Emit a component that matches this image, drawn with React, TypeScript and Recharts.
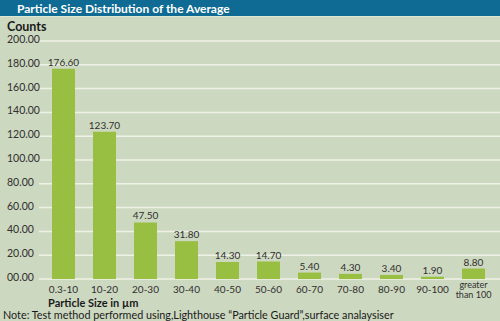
import React from "react";
import { Bar, BarChart, CartesianGrid, LabelList, XAxis, YAxis } from "recharts";

const sizeRanges = [
  "0.3-10",
  "10-20",
  "20-30",
  "30-40",
  "40-50",
  "50-60",
  "60-70",
  "70-80",
  "80-90",
  "90-100",
  "greater than 100",
];
const counts = [176.6, 123.7, 47.5, 31.8, 14.3, 14.7, 5.4, 4.3, 3.4, 1.9, 8.8];
const yTicks = [0, 20, 40, 60, 80, 100, 120, 140, 160, 180, 200];

const data = sizeRanges.map((range, i) => ({ range, count: counts[i] }));

const FONT = "Lato, 'Open Sans', sans-serif";
const BG = "#cdd8c0";
const BAR = "#99bf42";
const GRID = "#eef2e6";
const TEXT = "#2f2f2f";

function fmtY(v: number) {
  return v === 0 ? "00.00" : v.toFixed(2);
}

function YTick({ y, payload }: any) {
  return (
    <text x={7} y={y} dy={2} fontSize={10.5} fill={TEXT} fontFamily={FONT} textAnchor="start">
      {fmtY(payload.value)}
    </text>
  );
}

function XTick({ x, y, payload }: any) {
  const label: string = payload.value;
  if (label === "greater than 100") {
    // two-line label, drawn as separate texts
    return (
      <g>
        <text x={x} y={y + 1} fontSize={9} fill={TEXT} fontFamily={FONT} textAnchor="middle">
          greater
        </text>
        <text x={x} y={y + 11} fontSize={9} fill={TEXT} fontFamily={FONT} textAnchor="middle">
          than 100
        </text>
      </g>
    );
  }
  return (
    <text x={x} y={y + 6} fontSize={10} fill={TEXT} fontFamily={FONT} textAnchor="middle">
      {label}
    </text>
  );
}

export default function App() {
  return (
    <div
      style={{
        position: "fixed",
        top: 0,
        left: 0,
        width: 500,
        height: 321,
        background: BG,
        fontFamily: FONT,
        overflow: "hidden",
      }}
    >
      <div
        style={{
          position: "absolute",
          top: 0,
          left: 0,
          width: 500,
          height: 17,
          background: "#0f6b93",
          borderBottom: "1px solid #dfe6d6",
          color: "#fff",
          fontWeight: 700,
          fontSize: 12,
          lineHeight: "17px",
          paddingLeft: 17,
          boxSizing: "border-box",
        }}
      >
        Particle Size Distribution of the Average
      </div>
      <BarChart
        width={500}
        height={321}
        data={data}
        margin={{ top: 41, right: 0, bottom: 0, left: 0 }}
        barCategoryGap={9}
        style={{ position: "absolute", top: 0, left: 0 }}
      >
        <CartesianGrid horizontal vertical={false} stroke={GRID} strokeWidth={1.5} />
        <XAxis
          dataKey="range"
          height={42}
          axisLine={false}
          tickLine={false}
          interval={0}
          padding={{ left: 4, right: 6 }}
          tick={<XTick />}
        />
        <YAxis
          width={39}
          domain={[0, 200]}
          ticks={yTicks}
          axisLine={false}
          tickLine={false}
          tick={<YTick />}
        />
        <Bar dataKey="count" fill={BAR} isAnimationActive={false}>
          <LabelList
            dataKey="count"
            position="top"
            offset={3}
            formatter={(v: any) => Number(v).toFixed(2)}
            style={{ fontSize: 10, fill: TEXT, fontFamily: FONT }}
          />
        </Bar>
      </BarChart>
      <div
        style={{
          position: "absolute",
          left: 7,
          top: 21,
          fontSize: 12.5,
          lineHeight: "11px",
          fontWeight: 700,
          color: "#1a1a1a",
        }}
      >
        Counts
      </div>
      <div
        style={{
          position: "absolute",
          left: 48,
          top: 297,
          fontSize: 11,
          lineHeight: "11px",
          fontWeight: 700,
          color: "#1a1a1a",
        }}
      >
        Particle Size in µm
      </div>
      <div
        style={{
          position: "absolute",
          left: 3,
          top: 309,
          fontSize: 10.8,
          lineHeight: "11px",
          color: "#1a1a1a",
          whiteSpace: "nowrap",
        }}
      >
        Note: Test method performed using,Lighthouse “Particle Guard”,surface analaysiser
      </div>
    </div>
  );
}
